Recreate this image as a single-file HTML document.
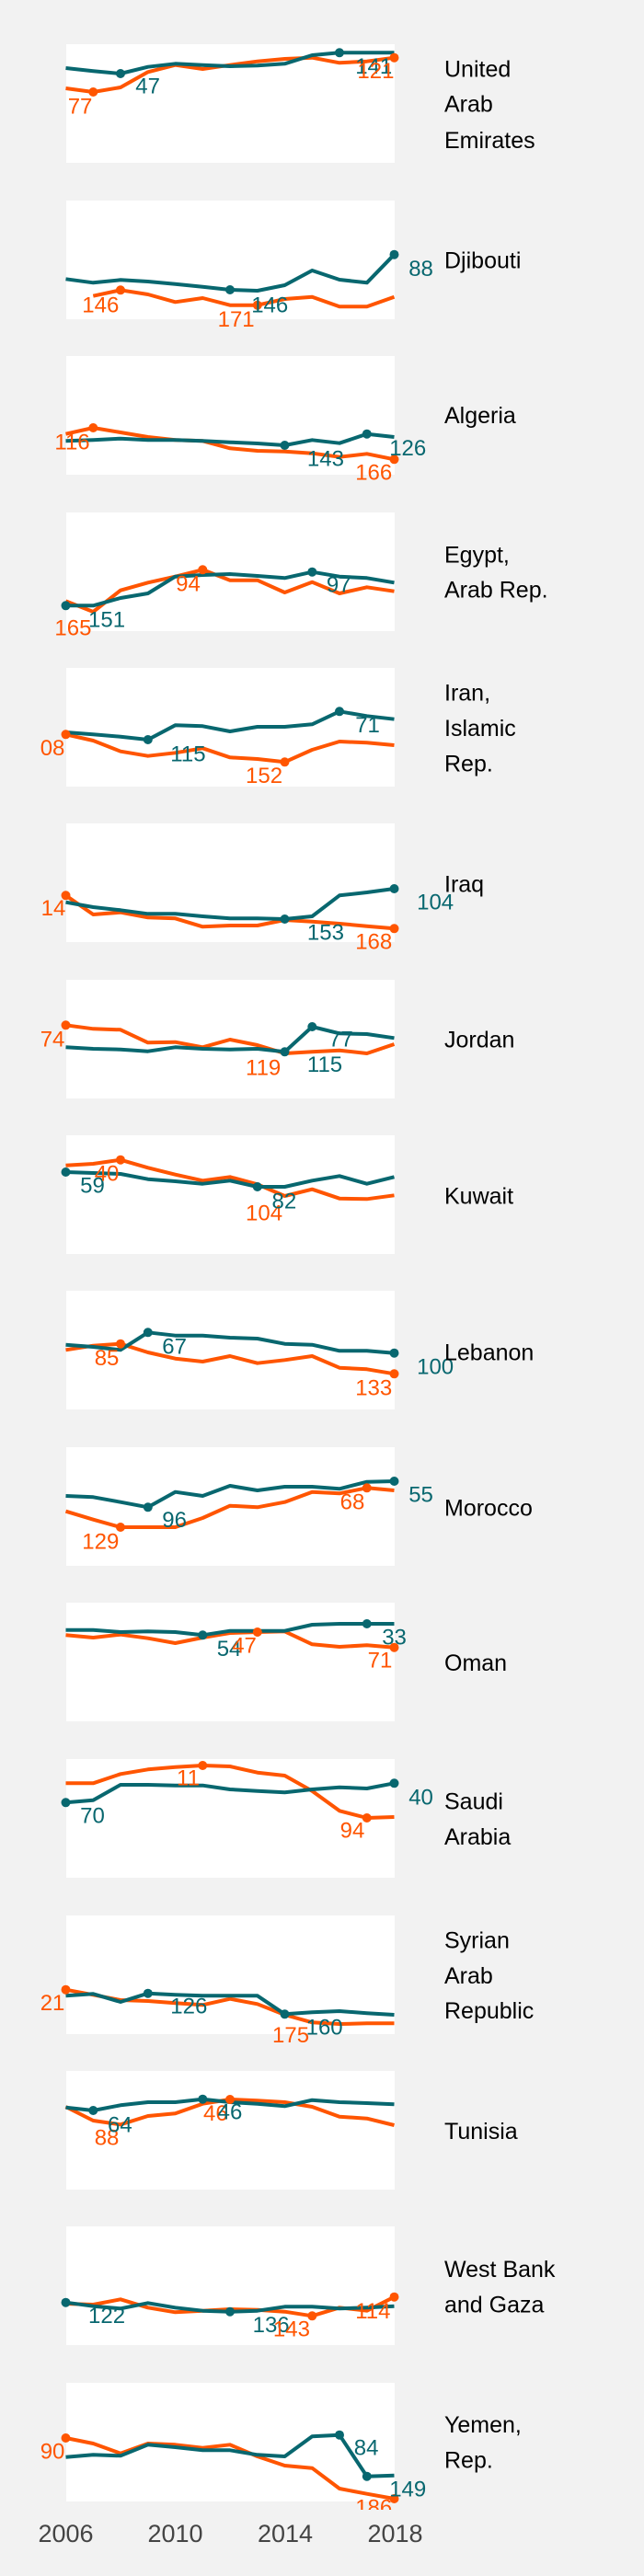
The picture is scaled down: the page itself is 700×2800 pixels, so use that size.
<!DOCTYPE html>
<html><head><meta charset="utf-8"><style>
html,body{margin:0;padding:0;background:#f2f2f2;}
svg{display:block;}
text{font-family:"Liberation Sans",Arial,sans-serif;}
</style></head><body>
<svg id="s" width="700" height="2800" xmlns="http://www.w3.org/2000/svg"></svg>
<script>
var T="#08676f",O="#ff5500";
var P=[
{o:0,top:48,t:[222,232,240,218,208,212,216,214,208,180,172,172,172],r:[288,300,285,235,212,225,212,200,192,188,205,200,188],
 m:[[T,2],[T,10],[O,1],[O,12]],l:[["77",O,165,370],["47",T,330,305],["141",T,865,240],["121",O,870,255]],c:[["United",250],["Arab",365],["Emirates",483]]},
{o:0,top:218,t:[910,922,913,918,926,935,945,948,930,882,912,922,830],r:[null,965,946,960,985,972,995,995,975,968,1000,1000,968],
 m:[[T,6],[T,12],[O,2],[O,7]],l:[["146",O,200,1018],["171",O,530,1065],["146",T,612,1018],["88",T,995,900]],c:[["Djibouti",875]]},
{o:370,top:387,t:[328,325,320,325,325,328,332,336,342,325,335,305,315],r:[305,285,300,315,325,328,352,360,362,368,380,370,388],
 m:[[T,8],[T,11],[O,1],[O,12]],l:[["116",O,133,355],["143",T,748,410],["166",O,865,455],["126",T,948,375]],c:[["Algeria",270]]},
{o:370,top:557,t:[865,865,840,825,770,765,762,768,775,755,770,775,790],r:[850,885,815,790,770,748,782,782,822,788,825,805,818],
 m:[[T,0],[T,9],[O,5]],l:[["165",O,133,962],["151",T,215,935],["94",O,428,818],["97",T,795,820]],c:[["Egypt,",725],["Arab Rep.",838]]},
{o:710,top:726,t:[258,265,272,282,235,238,255,240,240,232,190,205,215],r:[265,285,320,335,325,310,340,345,355,315,288,292,300],
 m:[[T,3],[T,10],[O,0],[O,8]],l:[["08",O,98,333],["115",T,415,352],["152",O,598,423],["71",T,865,258]],c:[["Iran,",155],["Islamic",270],["Rep.",385]]},
{o:710,top:895,t:[812,828,838,850,850,858,865,865,867,858,790,780,768],r:[790,852,845,862,865,892,888,888,870,875,882,890,898],
 m:[[T,8],[T,12],[O,0],[O,12]],l:[["14",O,100,855],["104",T,1015,835],["153",T,748,935],["168",O,865,965]],c:[["Iraq",778]]},
{o:1050,top:1065,t:[265,270,272,278,265,270,272,270,280,198,220,222,235],r:[193,205,208,250,248,265,240,258,285,280,275,285,255],
 m:[[T,8],[T,9],[O,0]],l:[["74",O,98,262],["119",O,598,355],["115",T,748,345],["77",T,800,262]],c:[["Jordan",265]]},
{o:1050,top:1234,t:[672,675,678,695,702,710,700,720,720,700,685,710,688],r:[650,645,632,658,680,700,688,712,750,728,758,760,748],
 m:[[T,0],[T,7],[O,2]],l:[["59",T,195,740],["40",O,230,700],["104",O,598,830],["82",T,662,790]],c:[["Kuwait",775]]},
{o:1390,top:1403,t:[215,222,232,175,185,185,192,195,212,215,235,235,242],r:[232,218,212,240,260,270,252,275,265,252,290,295,310],
 m:[[T,3],[T,12],[O,2],[O,12]],l:[["85",O,230,282],["67",T,395,245],["133",O,865,380],["100",T,1015,310]],c:[["Lebanon",265]]},
{o:1390,top:1573,t:[708,712,728,745,695,708,675,690,678,678,685,662,660],r:[758,785,810,810,810,780,740,745,728,695,700,682,690],
 m:[[T,3],[T,12],[O,2],[O,11]],l:[["129",O,200,880],["96",T,395,810],["68",O,828,752],["55",T,995,728]],c:[["Morocco",772]]},
{o:1730,top:1742,t:[125,125,132,130,132,142,128,128,128,108,105,105,105],r:[142,150,140,152,168,150,135,132,130,172,180,175,182],
 m:[[T,5],[T,11],[O,7],[O,12]],l:[["54",T,528,210],["47",O,565,200],["33",T,930,172],["71",O,895,248]],c:[["Oman",258]]},
{o:1730,top:1912,t:[688,680,630,630,632,632,645,650,655,645,638,642,625],r:[625,625,595,580,572,567,570,590,600,650,715,738,735],
 m:[[T,0],[T,12],[O,5],[O,11]],l:[["11",O,430,632],["70",T,195,755],["94",O,828,803],["40",T,995,695]],c:[["Saudi",710],["Arabia",825]]},
{o:2070,top:2082,t:[298,292,318,290,295,298,298,298,358,352,348,355,360],r:[278,295,312,315,322,328,308,325,360,385,390,388,388],
 m:[[T,3],[T,8],[O,0]],l:[["21",O,98,345],["126",T,415,355],["175",O,663,450],["160",T,745,425]],c:[["Syrian",142],["Arab",258],["Republic",372]]},
{o:2070,top:2251,t:[662,672,655,645,645,635,645,650,658,638,645,648,652],r:[660,705,718,690,682,650,636,640,645,660,692,698,720],
 m:[[T,1],[T,5],[O,6]],l:[["88",O,230,785],["64",T,262,742],["46",O,495,705],["46",T,530,700]],c:[["Tunisia",765]]},
{o:2440,top:2420,t:[188,200,208,190,205,215,218,215,202,202,208,205,200],r:[192,195,178,205,220,215,210,212,218,232,205,215,170],
 m:[[T,0],[T,6],[O,9],[O,12]],l:[["122",T,215,255],["136",T,615,285],["143",O,665,298],["114",O,865,240]],c:[["West Bank",105],["and Gaza",220]]},
{o:2440,top:2590,t:[692,685,688,652,660,670,670,685,690,625,620,755,752],r:[630,648,680,648,652,662,652,690,720,728,795,812,828],
 m:[[T,10],[T,11],[O,0],[O,12]],l:[["90",O,98,698],["84",T,862,685],["149",T,948,820],["186",O,865,880]],c:[["Yemen,",612],["Rep.",728]]}
];
var h='';
function X(i){return 71.5+i*29.75;}
P.forEach(function(p,k){
 var Y=function(v){return (p.o+v/3).toFixed(1);};
 h+='<clipPath id="c'+k+'"><rect x="0" y="'+(p.top-40)+'" width="700" height="'+(129+49)+'"/></clipPath>';
 h+='<rect x="72" y="'+p.top+'" width="357" height="129" fill="#fff"/>';
 h+='<g clip-path="url(#c'+k+')">';
 [[p.r,O],[p.t,T]].forEach(function(s){
  var pts=[];s[0].forEach(function(v,i){if(v!=null)pts.push(X(i).toFixed(1)+','+Y(v));});
  h+='<polyline points="'+pts.join(' ')+'" fill="none" stroke="'+s[1]+'" stroke-width="4" stroke-linejoin="round"/>';
 });
 p.m.forEach(function(m){var arr=m[0]==T?p.t:p.r;h+='<circle cx="'+X(m[1]).toFixed(1)+'" cy="'+Y(arr[m[1]])+'" r="5" fill="'+m[0]+'"/>';});
 p.l.forEach(function(l){h+='<text x="'+(l[2]/2.24).toFixed(1)+'" y="'+Y(l[3])+'" font-size="24" fill="'+l[1]+'">'+l[0]+'</text>';});
 h+='</g>';
 p.c.forEach(function(c){h+='<text x="483" y="'+Y(c[1])+'" font-size="25" fill="#000">'+c[0]+'</text>';});
});
[["2006",71.5],["2010",190.5],["2014",310],["2018",429.5]].forEach(function(a){
 h+='<text x="'+a[1]+'" y="2763" font-size="27" fill="#444" text-anchor="middle">'+a[0]+'</text>';});
document.getElementById('s').innerHTML=h;
</script>
</body></html>
